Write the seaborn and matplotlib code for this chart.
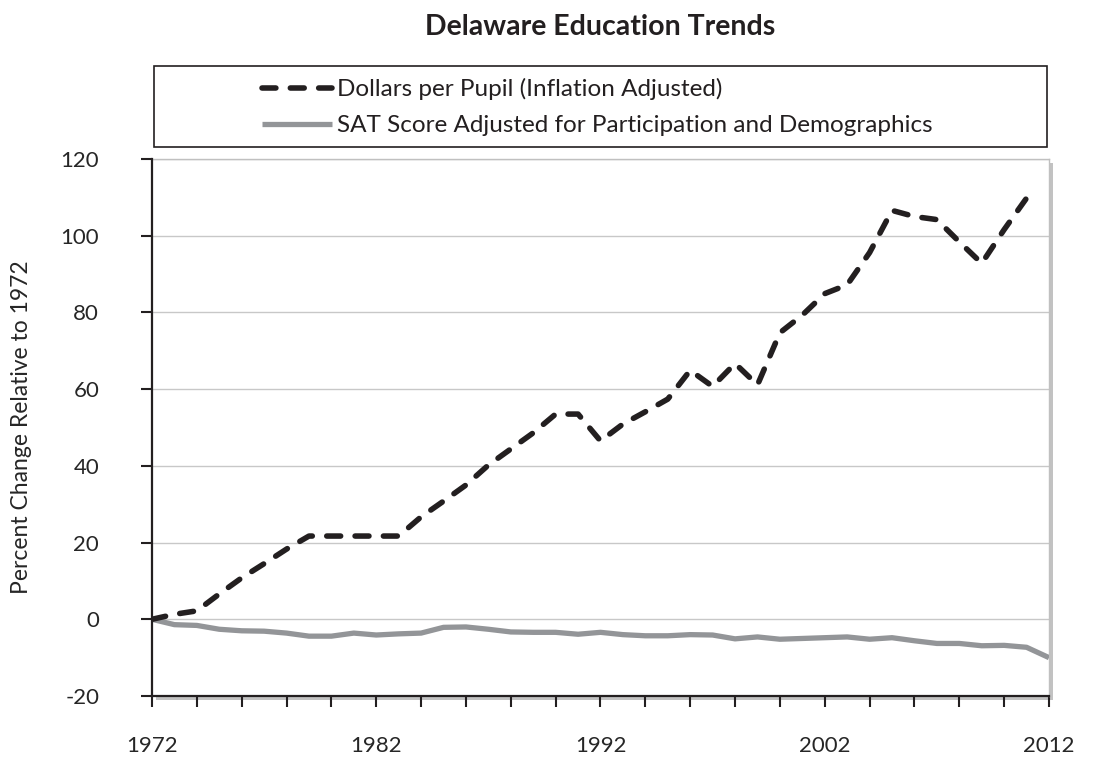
import matplotlib
matplotlib.use("Agg")
import matplotlib.pyplot as plt
import matplotlib.patheffects as pe
from matplotlib.patches import Rectangle
import pandas as pd
import seaborn as sns

# DATA (percent change relative to 1972)
spend_years = list(range(1972, 2012))
dollars_per_pupil = [0.0, 1.3, 2.2, 6.6, 10.8, 14.5, 18.3, 21.7, 21.7, 21.7,
                     21.7, 21.7, 26.7, 30.8, 35.0, 40.2, 44.4, 48.6, 53.5, 53.5,
                     46.5, 50.9, 54.1, 57.4, 64.9, 60.7, 66.7, 61.1, 74.7, 79.3,
                     84.9, 87.2, 95.6, 106.6, 105.0, 104.2, 98.4, 92.8, 101.6, 109.8]

sat_years = list(range(1972, 2013))
sat_adjusted = [0.0, -1.4, -1.6, -2.6, -3.0, -3.1, -3.6, -4.4, -4.4, -3.6,
                -4.1, -3.8, -3.6, -2.1, -2.0, -2.6, -3.3, -3.4, -3.4, -3.9,
                -3.4, -4.0, -4.3, -4.3, -4.0, -4.1, -5.1, -4.6, -5.2, -5.0,
                -4.8, -4.6, -5.2, -4.8, -5.6, -6.3, -6.3, -6.9, -6.8, -7.3,
                -10.0]

series_names = ["Dollars per Pupil (Inflation Adjusted)",
                "SAT Score Adjusted for Participation and Demographics"]
xtick_years = list(range(1972, 2013, 2))
xtick_labels = [str(y) if (y - 1972) % 10 == 0 else "" for y in xtick_years]
ytick_values = list(range(-20, 121, 20))

title = "Delaware Education Trends"
ylabel = "Percent Change Relative to 1972"


def main():
    sns.set_theme(style="white")
    plt.rcParams["font.family"] = ["Lato", "DejaVu Sans"]
    plt.rcParams["text.color"] = "#231f20"
    plt.rcParams["axes.unicode_minus"] = False

    fig = plt.figure(figsize=(10.93, 7.57), dpi=100)
    ax = fig.add_axes([152 / 1093, 1 - 696 / 757, (1049 - 152) / 1093, (696 - 159) / 757])

    spend = pd.DataFrame({"year": spend_years, "pct": dollars_per_pupil})
    sat = pd.DataFrame({"year": sat_years, "pct": sat_adjusted})

    sns.lineplot(data=spend, x="year", y="pct", ax=ax, color="#231f20",
                 linewidth=4.0, label=series_names[0], zorder=4)
    sns.lineplot(data=sat, x="year", y="pct", ax=ax, color="#939598",
                 linewidth=3.8, label=series_names[1], zorder=3)
    dash_line = ax.lines[0]
    dash_line.set_dashes((2.5, 2.6))
    dash_line.set_dash_capstyle("round")
    ax.lines[1].set_solid_capstyle("butt")

    ax.set_xlim(1972, 2012)
    ax.set_ylim(-20, 120)
    ax.set_xticks(xtick_years)
    ax.set_xticklabels(xtick_labels)
    ax.set_yticks(ytick_values)
    ax.set_xlabel("")
    ax.set_ylabel(ylabel, fontsize=16.5, va="center")
    ax.yaxis.set_label_coords((22 - 152) / 897, 0.5)

    ax.grid(axis="y", color="#c8c8c8", linewidth=1.0)
    ax.set_axisbelow(True)
    ax.tick_params(axis="both", which="major", direction="out", length=8,
                   width=1.5, color="#231f20", labelsize=16, bottom=True, left=True)
    ax.tick_params(axis="x", pad=21)
    ax.tick_params(axis="y", pad=30)

    for side in ["left", "bottom"]:
        ax.spines[side].set_color("#231f20")
        ax.spines[side].set_linewidth(1.6)
        ax.spines[side].set_zorder(5)
    for side in ["top", "right"]:
        ax.spines[side].set_color("#c0c0c0")
        ax.spines[side].set_linewidth(1.0)

    # soft shadow along right and bottom edge, like the spreadsheet original
    ax.patch.set_facecolor("white")
    ax.patch.set_path_effects([
        pe.SimplePatchShadow(offset=(3, -3), shadow_rgbFace="#9a9a9a", alpha=0.6),
        pe.Normal()])

    fig.text(600 / 1093, 1 - 27 / 757, title, ha="center", va="center",
             fontsize=20.5, fontweight="bold", color="#231f20")

    handles, labels = ax.get_legend_handles_labels()
    leg = ax.legend(handles, labels, loc="upper left",
                    bbox_to_anchor=(262 / 1093, 1 - 78 / 757),
                    bbox_transform=fig.transFigure, frameon=False,
                    fontsize=17.5, handlelength=2.9, handletextpad=0.2,
                    labelspacing=0.62, borderpad=0, borderaxespad=0)
    for txt in leg.get_texts():
        txt.set_color("#231f20")

    fig.add_artist(Rectangle((154 / 1093, 1 - 147 / 757), (1047 - 154) / 1093,
                             (147 - 66) / 757, transform=fig.transFigure,
                             fill=False, edgecolor="#231f20", linewidth=1.2))

    fig.savefig("out.png", dpi=100)
    plt.close(fig)


if __name__ == "__main__":
    main()
